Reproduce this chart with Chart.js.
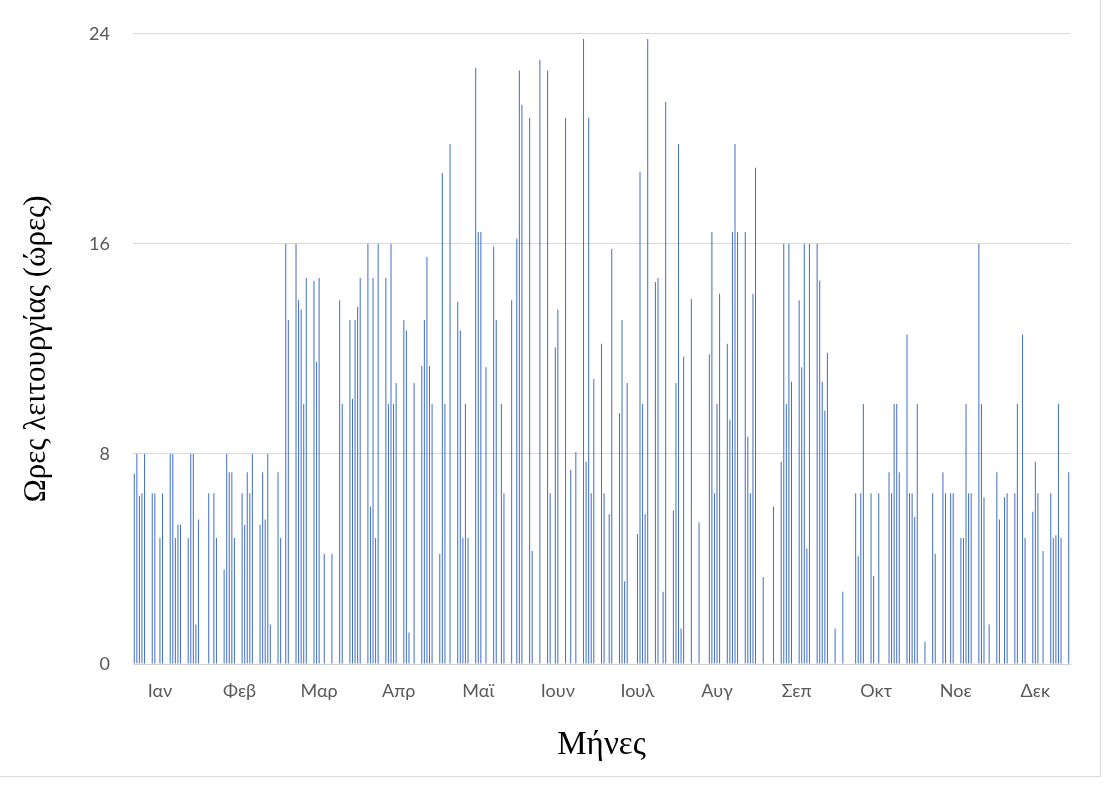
<!DOCTYPE html>
<html>
<head>
<meta charset="utf-8">
<script src="https://cdn.jsdelivr.net/npm/chart.js@4.4.1/dist/chart.umd.min.js"></script>
<style>
  html, body { margin: 0; padding: 0; background: #fff; }
  #box { position: absolute; left: 0; top: 0; width: 1110px; height: 785px; }
  #frame { position: absolute; left: 0; top: 0; width: 1101px; height: 777px;
           border-right: 1px solid #d9d9d9; border-bottom: 1px solid #d9d9d9;
           box-sizing: border-box; pointer-events: none; }
</style>
</head>
<body>
<div id="box"><canvas id="hoursChart"></canvas></div>
<div id="frame"></div>
<script>
// Ημερήσιες ώρες λειτουργίας για ένα έτος (365 ημέρες)
const monthLabels = ['Ιαν', 'Φεβ', 'Μαρ', 'Απρ', 'Μαϊ', 'Ιουν', 'Ιουλ', 'Αυγ', 'Σεπ', 'Οκτ', 'Νοε', 'Δεκ'];
const firstLabelDay = 10;   // θέση της πρώτης ετικέτας μήνα
const labelStep = 31;       // μία ετικέτα ανά 31 ημέρες
const dayCount = 365;
const yTicks = [0, 8, 16, 24];

// ημέρες (0 = 1 Ιαν) με λειτουργία και οι αντίστοιχες ώρες
const activeDays = [
  0, 1, 2, 3, 4, 7, 8, 10, 11, 14, 15, 16, 17, 18, 21, 22, 23, 24, 25, 29,
  31, 32, 35, 36, 37, 38, 39, 42, 43, 44, 45, 46, 49, 50, 51, 52, 53, 56, 57, 59,
  60, 63, 64, 65, 66, 67, 70, 71, 72, 74, 77, 80, 81, 84, 85, 86, 87, 88, 91, 92,
  93, 94, 95, 98, 99, 100, 101, 102, 105, 106, 107, 109, 112, 113, 114, 115, 116, 119, 120, 121,
  123, 126, 127, 128, 129, 130, 133, 134, 135, 137, 140, 141, 143, 144, 147, 149, 150, 151, 154, 155,
  158, 161, 162, 164, 165, 168, 170, 172, 175, 176, 177, 178, 179, 182, 183, 185, 186, 189, 190, 191,
  192, 196, 197, 198, 199, 200, 203, 204, 206, 207, 210, 211, 212, 213, 214, 217, 220, 224, 225, 226,
  227, 228, 231, 232, 233, 234, 235, 238, 239, 240, 241, 242, 245, 249, 252, 253, 254, 255, 256, 259,
  260, 261, 262, 263, 266, 267, 268, 269, 270, 273, 276, 281, 282, 283, 284, 287, 288, 290, 294, 295,
  296, 297, 298, 301, 302, 303, 304, 305, 308, 311, 312, 315, 316, 318, 319, 322, 323, 324, 325, 326,
  329, 330, 331, 333, 336, 337, 339, 340, 343, 344, 346, 347, 350, 351, 352, 354, 357, 358, 359, 360,
  361, 364
];
const activeHours = [
  7.25, 8, 6.4, 6.5, 8, 6.5, 6.5, 4.8, 6.5, 8, 8, 4.8, 5.3, 5.3, 4.8, 8, 8, 1.5, 5.5, 6.5,
  6.5, 4.8, 3.6, 8, 7.3, 7.3, 4.8, 6.5, 5.3, 7.3, 6.5, 8, 5.3, 7.3, 5.5, 8, 1.5, 7.3, 4.8, 16,
  13.1, 16, 13.85, 13.5, 9.9, 14.7, 14.6, 11.5, 14.7, 4.2, 4.2, 13.85, 9.9, 13.1, 10.1, 13.1, 13.6, 14.7, 16, 6.0,
  14.7, 4.8, 16, 14.7, 9.9, 16, 9.9, 10.7, 13.1, 12.7, 1.2, 10.7, 11.35, 13.1, 15.5, 11.35, 9.9, 4.2, 18.7, 9.9,
  19.8, 13.8, 12.7, 4.8, 9.9, 4.8, 22.7, 16.45, 16.45, 11.3, 15.9, 13.1, 9.9, 6.5, 13.85, 16.2, 22.6, 21.3, 20.8, 4.3,
  23.0, 22.6, 6.5, 12.05, 13.5, 20.8, 7.4, 8.07, 23.8, 7.7, 20.8, 6.5, 10.85, 12.2, 6.5, 5.7, 15.8, 9.55, 13.1, 3.15,
  10.7, 4.95, 18.75, 9.9, 5.7, 23.8, 14.55, 14.7, 2.75, 21.4, 5.85, 10.7, 19.8, 1.35, 11.7, 13.9, 5.4, 11.8, 16.45, 6.5,
  9.9, 14.1, 12.2, 9.3, 16.45, 19.8, 16.45, 16.45, 8.65, 6.5, 14.1, 18.9, 3.3, 6.0, 7.7, 16, 9.9, 16, 10.75, 13.85,
  11.3, 16, 4.4, 16, 16, 14.6, 10.75, 9.65, 11.85, 1.35, 2.75, 6.5, 4.1, 6.5, 9.9, 6.5, 3.35, 6.5, 7.3, 6.5,
  9.9, 9.9, 7.3, 12.55, 6.5, 6.5, 5.6, 9.9, 0.85, 6.5, 4.2, 7.3, 6.5, 6.5, 6.5, 4.8, 4.8, 9.9, 6.5, 6.5,
  16, 9.9, 6.35, 1.5, 7.3, 5.5, 6.35, 6.5, 6.5, 9.9, 12.55, 4.8, 5.8, 7.7, 6.5, 4.3, 6.5, 4.8, 4.9, 9.9,
  4.8, 7.3
];

// πλήρης σειρά ημερών: οι ημέρες χωρίς λειτουργία μένουν κενές
const dayLabels = [];
const hours = [];
for (let d = 0; d < dayCount; d++) {
  dayLabels.push(String(d + 1));
  hours.push(null);
}
activeDays.forEach((d, i) => { hours[d] = activeHours[i]; });

const tickFont = { family: 'Lato', size: 18 };

new Chart(document.getElementById('hoursChart'), {
  type: 'bar',
  data: {
    labels: dayLabels,
    datasets: [{
      data: hours,
      backgroundColor: '#4472C4',
      borderWidth: 0,
      categoryPercentage: 1,
      barPercentage: 0.4
    }]
  },
  options: {
    responsive: true,
    maintainAspectRatio: false,
    animation: false,
    events: [],
    layout: { padding: { left: 0, top: 32, right: 40, bottom: 0 } },
    plugins: { legend: { display: false }, tooltip: { enabled: false } },
    scales: {
      x: {
        grid: { display: false },
        border: { display: true, color: '#d0d0d0', width: 1 },
        ticks: {
          autoSkip: false,
          maxRotation: 0,
          minRotation: 0,
          padding: 8,
          color: '#595959',
          font: tickFont,
          callback: (val, i) => {
            const k = i - firstLabelDay;
            return k >= 0 && k % labelStep === 0 ? monthLabels[k / labelStep] : null;
          }
        },
        title: {
          display: true,
          text: 'Μήνες',
          color: '#000',
          font: { family: 'Liberation Serif', size: 33 },
          padding: { top: 0, bottom: 20 }
        },
        afterFit: s => { s.height = 121; }
      },
      y: {
        min: 0,
        max: 24,
        afterBuildTicks: s => { s.ticks = yTicks.map(v => ({ value: v })); },
        grid: { color: '#d9d9d9', lineWidth: 1, drawTicks: false },
        border: { display: false },
        ticks: { padding: 23, color: '#595959', font: tickFont },
        title: {
          display: true,
          text: 'Ωρες λειτουργίας (ώρες)',
          color: '#000',
          font: { family: 'Liberation Serif', size: 31 },
          padding: { top: 18, bottom: 0 }
        },
        afterFit: s => { s.width = 133; }
      }
    }
  }
});
</script>
</body>
</html>
